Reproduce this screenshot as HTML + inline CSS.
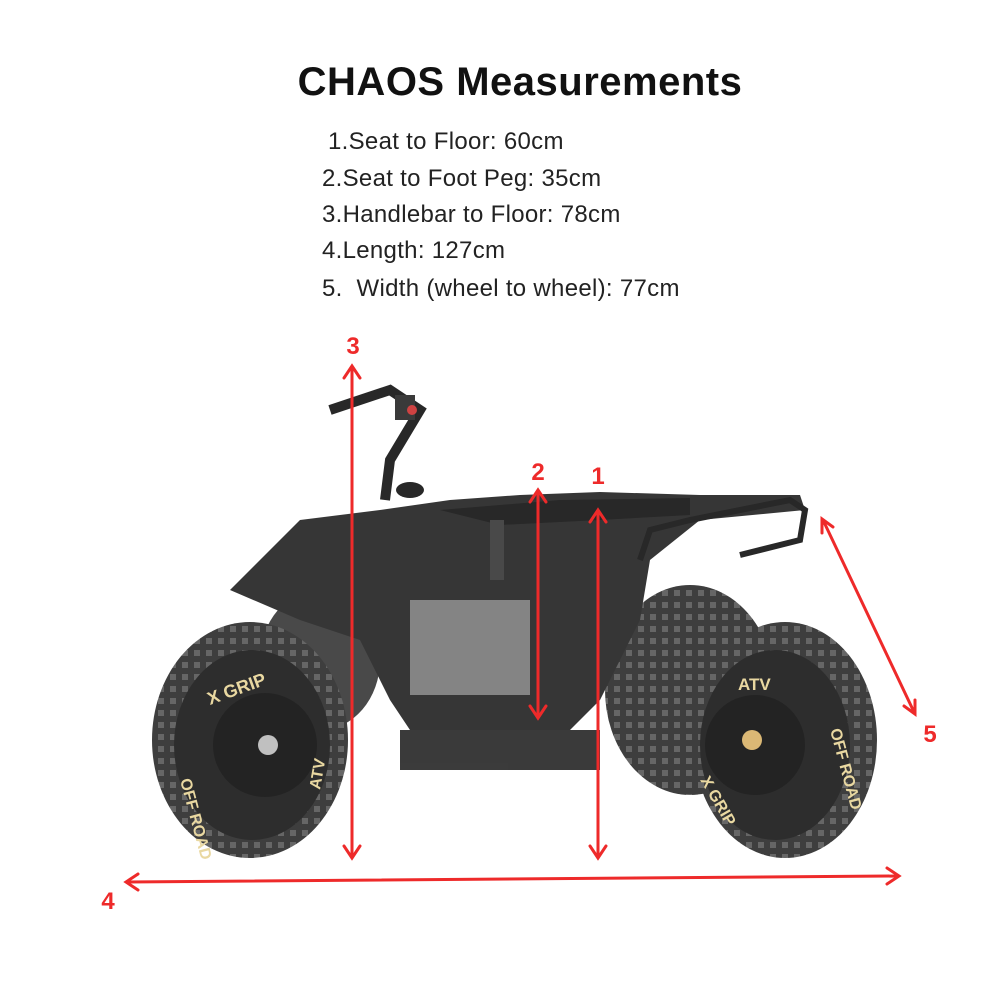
<!DOCTYPE html>
<html><head><meta charset="utf-8"><style>
html,body{margin:0;padding:0;background:#fff;}
#w{position:relative;width:1000px;height:1000px;overflow:hidden;font-family:"Liberation Sans",sans-serif;}
h1{position:absolute;left:0;width:1040px;top:60px;margin:0;text-align:center;font-size:40px;font-weight:900;color:#111;letter-spacing:0.5px;}
.li{position:absolute;font-size:24px;color:#222;letter-spacing:0.3px;}
</style></head><body><div id="w">
<h1>CHAOS Measurements</h1>
<div class="li" style="left:328px;top:128px">1.Seat to Floor: 60cm</div>
<div class="li" style="left:322px;top:165px">2.Seat to Foot Peg: 35cm</div>
<div class="li" style="left:322px;top:201px">3.Handlebar to Floor: 78cm</div>
<div class="li" style="left:322px;top:237px">4.Length: 127cm</div>
<div class="li" style="left:322px;top:275px">5.&nbsp; Width (wheel to wheel): 77cm</div>
<svg width="1000" height="1000" style="position:absolute;left:0;top:0">
<defs>
<pattern id="kn" width="12" height="12" patternUnits="userSpaceOnUse">
<rect width="12" height="12" fill="#2e2e2e"/><rect x="2" y="2" width="6" height="6" fill="#5a5a5a"/>
</pattern>
</defs>
<g opacity="0.92">
<ellipse cx="690" cy="690" rx="85" ry="105" fill="url(#kn)"/>
<ellipse cx="320" cy="660" rx="60" ry="70" fill="#3a3a3a"/>
<polygon points="230,590 300,520 380,510 450,500 520,495 600,492 700,495 800,495 805,510 700,520 650,560 640,620 600,700 560,740 420,745 390,700 360,640 300,620" fill="#262626"/>
<polygon points="440,510 560,500 690,498 690,515 600,520 500,525" fill="#161616"/>
<rect x="410" y="600" width="120" height="95" fill="#7a7a7a"/>
<rect x="400" y="730" width="200" height="40" fill="#2a2a2a"/>
<polyline points="330,410 390,390 420,410 390,460 385,500" stroke="#161616" stroke-width="10" fill="none"/>
<rect x="395" y="395" width="20" height="25" fill="#2a2a2a"/>
<circle cx="412" cy="410" r="5" fill="#c33"/>
<ellipse cx="410" cy="490" rx="14" ry="8" fill="#161616"/>
<rect x="490" y="520" width="14" height="60" fill="#3a3a3a"/>
<polyline points="640,560 650,530 690,520 790,500 805,510 800,540 740,555" stroke="#161616" stroke-width="6" fill="none"/>
<ellipse cx="250" cy="740" rx="98" ry="118" fill="url(#kn)"/>
<ellipse cx="252" cy="745" rx="78" ry="95" fill="#1c1c1c"/>
<circle cx="265" cy="745" r="52" fill="#111"/>
<circle cx="268" cy="745" r="10" fill="#bbb"/>
<text x="210" y="705" font-size="18" font-weight="bold" fill="#e8d59a" transform="rotate(-20 210 705)">X GRIP</text>
<text x="180" y="780" font-size="16" font-weight="bold" fill="#e8d59a" transform="rotate(75 180 780)">OFF ROAD</text>
<text x="320" y="790" font-size="16" font-weight="bold" fill="#e8d59a" transform="rotate(-80 320 790)">ATV</text>
<ellipse cx="785" cy="740" rx="92" ry="118" fill="url(#kn)"/>
<ellipse cx="775" cy="745" rx="75" ry="95" fill="#1c1c1c"/>
<circle cx="755" cy="745" r="50" fill="#111"/>
<circle cx="752" cy="740" r="10" fill="#d8b36a"/>
<text x="738" y="690" font-size="17" font-weight="bold" fill="#e8d59a">ATV</text>
<text x="830" y="730" font-size="16" font-weight="bold" fill="#e8d59a" transform="rotate(75 830 730)">OFF ROAD</text>
<text x="700" y="780" font-size="16" font-weight="bold" fill="#e8d59a" transform="rotate(60 700 780)">X GRIP</text>
</g>
<g stroke="#ee2a2a" stroke-width="3" fill="none" stroke-linecap="round">
<line x1="352" y1="368" x2="352" y2="856"/><polyline points="344,378 352,366 360,378"/><polyline points="344,846 352,858 360,846"/>
<line x1="538" y1="492" x2="538" y2="716"/><polyline points="530,502 538,490 546,502"/><polyline points="530,706 538,718 546,706"/>
<line x1="598" y1="512" x2="598" y2="856"/><polyline points="590,522 598,510 606,522"/><polyline points="590,846 598,858 606,846"/>
<line x1="127" y1="882" x2="898" y2="876"/><polyline points="138,874 126,882 138,890"/><polyline points="887,868 899,876 887,884"/>
<line x1="823" y1="520" x2="914" y2="712"/><polyline points="822,533 822,519 833,527"/><polyline points="904,706 915,714 915,700"/>
</g>
<g fill="#ee2a2a" font-weight="bold" font-size="24" text-anchor="middle">
<text x="353" y="354">3</text><text x="538" y="480">2</text><text x="598" y="484">1</text>
<text x="108" y="909">4</text><text x="930" y="742">5</text>
</g>
</svg>
</div></body></html>
